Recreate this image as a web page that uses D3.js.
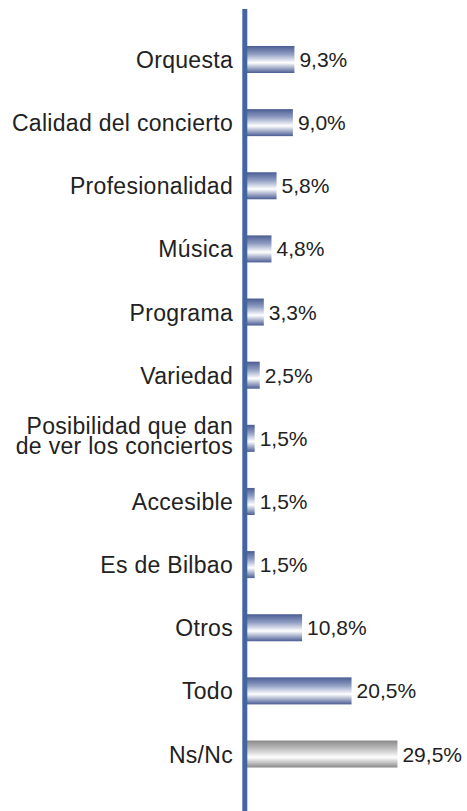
<!doctype html>
<html>
<head>
<meta charset="utf-8">
<title>Chart</title>
<script src="https://cdnjs.cloudflare.com/ajax/libs/d3/7.8.5/d3.min.js"></script>
<style>
  body { margin: 0; background: #fff; }
  text { font-family: "Liberation Sans", Arial, sans-serif; }
</style>
</head>
<body>
<div id="chart"></div>
<script>
// data
const categories = ["Orquesta", "Calidad del concierto", "Profesionalidad", "Música", "Programa",
  "Variedad", "Posibilidad que dan\nde ver los conciertos", "Accesible", "Es de Bilbao",
  "Otros", "Todo", "Ns/Nc"];
const values = [9.3, 9.0, 5.8, 4.8, 3.3, 2.5, 1.5, 1.5, 1.5, 10.8, 20.5, 29.5];
const valueLabels = ["9,3%", "9,0%", "5,8%", "4,8%", "3,3%", "2,5%", "1,5%", "1,5%", "1,5%", "10,8%", "20,5%", "29,5%"];

const width = 467, height = 811;
const x0 = 247;

const svg = d3.select('#chart').append('svg')
  .attr('width', width).attr('height', height);

const x = d3.scaleLinear().domain([0, 30]).range([x0, x0 + 153]);
const y = d3.scaleBand().domain(categories).range([14.4, 799.1]).paddingInner(0.572).paddingOuter(0.5);

const defs = svg.append('defs');
function grad(id, dark, mid) {
  const g = defs.append('linearGradient').attr('id', id)
    .attr('x1', 0).attr('y1', 0).attr('x2', 0).attr('y2', 1);
  g.append('stop').attr('offset', '0%').attr('stop-color', dark);
  g.append('stop').attr('offset', '30%').attr('stop-color', mid);
  g.append('stop').attr('offset', '62%').attr('stop-color', '#ffffff');
  g.append('stop').attr('offset', '100%').attr('stop-color', dark);
}
grad('blueGrad', '#4a5c93', '#8f9dc2');
grad('grayGrad', '#8a8a8a', '#bdbdbd');

svg.selectAll('rect.bar')
  .data(values)
  .join('rect')
  .attr('class', 'bar')
  .attr('x', x(0))
  .attr('y', (d, i) => y(categories[i]))
  .attr('width', d => x(d) - x(0))
  .attr('height', y.bandwidth())
  .attr('fill', (d, i) => i === categories.length - 1 ? 'url(#grayGrad)' : 'url(#blueGrad)');

// value labels
svg.selectAll('text.val')
  .data(values)
  .join('text')
  .attr('class', 'val')
  .attr('x', d => x(d) + 5)
  .attr('y', (d, i) => y(categories[i]) + y.bandwidth() / 2 + 7.5)
  .attr('font-size', 21)
  .attr('fill', '#222')
  .text((d, i) => valueLabels[i]);

// category labels
const cat = svg.selectAll('text.cat')
  .data(categories)
  .join('text')
  .attr('class', 'cat')
  .attr('text-anchor', 'end')
  .attr('font-size', 23)
  .attr('letter-spacing', 0.3)
  .attr('fill', '#222')
  .attr('x', 233)
  .attr('y', d => {
    const lines = d.split('\n').length;
    return y(d) + y.bandwidth() / 2 + 8.5 - (lines - 1) * 13;
  });
cat.each(function(d) {
  const t = d3.select(this);
  d.split('\n').forEach((line, k) => {
    t.append('tspan').attr('x', 233).attr('dy', k === 0 ? 0 : 20).text(line);
  });
});

// vertical axis line
svg.append('line')
  .attr('x1', 244.8).attr('x2', 244.8)
  .attr('y1', 9).attr('y2', height)
  .attr('stroke', '#4466a0').attr('stroke-width', 5);
</script>
</body>
</html>
